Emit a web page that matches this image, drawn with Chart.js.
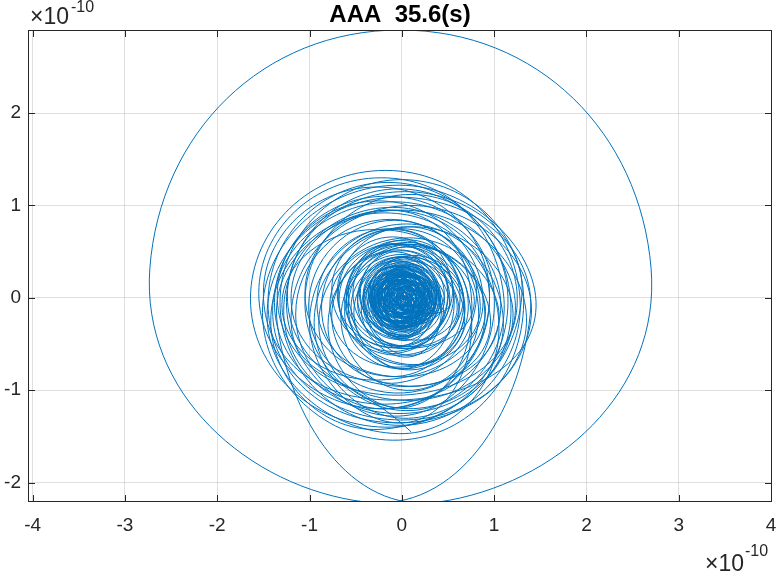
<!DOCTYPE html>
<html lang="en">
<head>
    <meta charset="UTF-8">
    <title>AAA  35.6(s)</title>
    <script src="https://cdn.jsdelivr.net/npm/chart.js"></script>
    <style>
        html, body { margin: 0; padding: 0; background: #fff; }
    </style>
</head>
<body>
<canvas id="myChart" width="777" height="573"></canvas>

<script>
    // extents of each loop of the orbit (units of 1e-10), in the order it is traced
    const loopLeft   = [-0.02, -0.08, -0.07, -0.03, -0.17, -0.03, -0.15, -0.02, -0.19, 0.00,
                        -0.25, -0.10, -0.16, -0.05, -0.25, -0.06, -0.27, -0.02, -0.32, -0.18,
                        -0.16, -0.12, -0.29, -0.08, -0.34,
                        -0.06, -0.19, -0.14, -0.20, -0.10, -0.27, -0.18, -0.26, -0.14, -0.34,
                        -0.26, -0.22, -0.33, -0.22, -0.36, -0.29, -0.33, -0.16, -0.25, -0.14,
                        -0.05, -0.10, -0.08, -0.12, -0.15, -0.04, -0.21, -0.12, -0.10, -0.18,
                        -0.20, -0.06, -0.22, -0.16, -0.13, -0.24, -0.24, -0.09, -0.33, -0.20,
                        -0.19, -0.26, -0.12, -0.30, -0.22, -0.30, -0.18, -0.26, -0.28, -0.36,
                        -0.16, -0.33, -0.32, -0.30, -0.22, -0.41, -0.26, -0.31, -0.35, -0.42,
                        -0.20, -0.30, -0.30, -0.42, -0.28, -0.42, -0.38, -0.34, -0.24, -0.48,
                        -0.36, -0.38, -0.32, -0.46, -0.25, -0.18, -0.27, -0.14,
                        -0.48, -0.55, -0.60, -0.45, -0.44, -0.62, -0.68, -0.40, -0.53, -0.58,
                        -0.62, -0.52, -0.76, -0.70, -0.58, -0.60, -0.76, -0.69, -0.92, -0.66,
                        -0.87, -0.80, -1.05,
                        -0.78, -1.01, -1.15, -1.20, -0.90, -1.00, -1.30, -1.38, -1.28, -0.95,
                        -1.25, -1.35, -1.40, -1.35, -1.46, -1.42, -1.24, -1.05, -1.55, -1.50,
                        -1.51, -1.32, -1.64, -1.45, -1.20];
    const loopRight  = [0.10, 0.02, 0.07, 0.13, 0.03, 0.15, 0.03, 0.18, 0.03, 0.24,
                        0.01, 0.16, 0.12, 0.25, 0.05, 0.26, 0.05, 0.32, 0.02, 0.18,
                        0.20, 0.28, 0.11, 0.34, 0.08,
                        0.18, 0.09, 0.18, 0.14, 0.28, 0.11, 0.26, 0.18, 0.34, 0.14,
                        0.26, 0.32, 0.23, 0.36, 0.24, 0.33, 0.33, 0.24, 0.21, 0.16,
                        0.07, 0.10, 0.04, 0.16, 0.05, 0.18, 0.15, 0.12, 0.14, 0.26,
                        0.08, 0.22, 0.18, 0.16, 0.19, 0.26, 0.12, 0.25, 0.23, 0.20,
                        0.29, 0.14, 0.28, 0.30, 0.22, 0.22, 0.26, 0.38, 0.20, 0.24,
                        0.32, 0.37, 0.18, 0.36, 0.30, 0.35, 0.28, 0.41, 0.21, 0.38,
                        0.36, 0.38, 0.30, 0.32, 0.34, 0.42, 0.26, 0.46, 0.40, 0.40,
                        0.32, 0.42, 0.38, 0.46, 0.31, 0.22, 0.19, 0.30,
                        0.52, 0.45, 0.50, 0.55, 0.60, 0.42, 0.52, 0.66, 0.63, 0.56,
                        0.62, 0.68, 0.56, 0.50, 0.78, 0.72, 0.68, 0.81, 0.68, 0.90,
                        0.83, 0.96, 0.75,
                        0.67, 0.85, 0.90, 0.95, 1.05, 1.10, 0.74, 0.88, 1.07, 1.20,
                        1.18, 1.00, 1.23, 1.35, 1.39, 1.05, 1.30, 1.25, 1.10, 0.95,
                        1.45, 1.32, 1.28, 1.15, 1.40];
    const loopTop    = [0.06, 0.08, 0.02, 0.13, 0.05, 0.19, 0.18, 0.02, 0.18, 0.14,
                        0.11, 0.00, 0.01, 0.25, 0.05, 0.04, 0.26, 0.14, 0.19, 0.33,
                        0.02, 0.26, 0.13, 0.08, 0.33,
                        0.10, 0.19, 0.24, 0.09, 0.23, 0.19, 0.12, 0.31, 0.18, 0.27,
                        0.26, 0.33, 0.22, 0.26, 0.34, 0.26, 0.36, 0.18, 0.24, 0.12,
                        0.06, 0.10, 0.03, 0.11, 0.12, 0.08, 0.20, 0.16, 0.06, 0.17,
                        0.10, 0.14, 0.24, 0.20, 0.09, 0.17, 0.16, 0.22, 0.28, 0.14,
                        0.27, 0.24, 0.18, 0.26, 0.28, 0.20, 0.12, 0.30, 0.22, 0.35,
                        0.25, 0.35, 0.18, 0.23, 0.32, 0.40, 0.16, 0.31, 0.30, 0.38,
                        0.24, 0.38, 0.33, 0.29, 0.20, 0.44, 0.34, 0.34, 0.36, 0.44,
                        0.26, 0.28, 0.42, 0.51, 0.25, 0.19, 0.15, 0.29,
                        0.45, 0.40, 0.58, 0.55, 0.40, 0.50, 0.58, 0.46, 0.63, 0.62,
                        0.47, 0.44, 0.74, 0.66, 0.58, 0.60, 0.52, 0.77, 0.75, 0.56,
                        0.75, 0.58, 0.95,
                        0.59, 0.84, 0.85, 0.95, 0.65, 0.80, 0.74, 1.05, 0.98, 0.77,
                        1.18, 1.10, 1.04, 0.95, 1.09, 0.92, 1.15, 1.12, 1.30, 1.20,
                        1.22, 1.28, 1.38, 1.25, 1.00];
    const loopBottom = [-0.06, -0.02, -0.12, 0.01, -0.04, -0.03, -0.03, -0.18, -0.20, -0.10,
                        -0.15, -0.20, -0.27, -0.05, -0.25, -0.28, -0.06, -0.20, -0.15, -0.03,
                        -0.34, -0.14, -0.27, -0.34, -0.09,
                        -0.14, -0.09, -0.08, -0.25, -0.15, -0.19, -0.32, -0.13, -0.30, -0.21,
                        -0.26, -0.21, -0.34, -0.32, -0.26, -0.36, -0.30, -0.22, -0.22, -0.18,
                        -0.07, -0.10, -0.09, -0.17, -0.08, -0.14, -0.16, -0.08, -0.18, -0.27,
                        -0.18, -0.14, -0.16, -0.12, -0.23, -0.33, -0.20, -0.12, -0.28, -0.26,
                        -0.21, -0.16, -0.22, -0.34, -0.16, -0.32, -0.32, -0.34, -0.26, -0.25,
                        -0.23, -0.35, -0.32, -0.43, -0.20, -0.36, -0.38, -0.41, -0.26, -0.42,
                        -0.32, -0.30, -0.27, -0.45, -0.42, -0.40, -0.30, -0.46, -0.28, -0.44,
                        -0.42, -0.52, -0.28, -0.41, -0.31, -0.21, -0.31, -0.15,
                        -0.55, -0.60, -0.52, -0.45, -0.64, -0.54, -0.62, -0.62, -0.53, -0.52,
                        -0.77, -0.76, -0.58, -0.54, -0.78, -0.72, -0.92, -0.73, -0.85, -1.00,
                        -0.95, -1.18, -0.85,
                        -0.75, -1.03, -1.20, -0.95, -1.20, -1.35, -0.89, -1.15, -1.25, -1.30,
                        -1.28, -1.05, -1.32, -1.50, -1.47, -1.42, -1.11, -1.22, -1.20, -1.10,
                        -1.54, -1.38, -1.40, -1.35, -1.45];

    // the one wide excursion, taken after the left side of loop number outerAfter
    const outerAfter = 139;
    const outerX = [0.40, 2.70, -0.02, -2.73, -0.40];
    const outerY = [-2.21, 0.32, 2.90, 0.32, -2.21];

    const xTicks = [-4, -3, -2, -1, 0, 1, 2, 3, 4];
    const yTicks = [-2, -1, 0, 1, 2];
    const titleText = 'AAA  35.6(s)';

    // each loop is traced right -> top -> left -> bottom, the spline rounds it off
    const points = [];
    for (let i = 0; i < loopLeft.length; i++) {
        const cx = (loopLeft[i] + loopRight[i]) / 2;
        const cy = (loopTop[i] + loopBottom[i]) / 2;
        points.push({x: loopRight[i], y: cy});
        points.push({x: cx, y: loopTop[i]});
        points.push({x: loopLeft[i], y: cy});
        if (i === outerAfter) {
            outerX.forEach((v, k) => points.push({x: v, y: outerY[k]}));
        } else {
            points.push({x: cx, y: loopBottom[i]});
        }
    }

    const frame = {
        id: 'frame',
        afterDraw(chart) {
            const ctx = chart.ctx;
            const a = chart.chartArea;
            const x = chart.scales.x, y = chart.scales.y;
            ctx.save();
            ctx.strokeStyle = '#262626';
            ctx.lineWidth = 1;
            ctx.strokeRect(a.left + 0.5, a.top + 0.5, a.right - a.left - 1, a.bottom - a.top - 1);
            ctx.beginPath();
            xTicks.forEach(v => {
                const px = Math.round(x.getPixelForValue(v)) + 0.5;
                ctx.moveTo(px, a.bottom); ctx.lineTo(px, a.bottom - 7);
                ctx.moveTo(px, a.top); ctx.lineTo(px, a.top + 7);
            });
            yTicks.forEach(v => {
                const py = Math.round(y.getPixelForValue(v)) + 0.5;
                ctx.moveTo(a.left, py); ctx.lineTo(a.left + 7, py);
                ctx.moveTo(a.right, py); ctx.lineTo(a.right - 7, py);
            });
            ctx.stroke();

            ctx.fillStyle = '#000';
            ctx.font = 'bold 24px "Liberation Sans"';
            ctx.textAlign = 'center';
            ctx.textBaseline = 'alphabetic';
            ctx.fillText(titleText, (a.left + a.right) / 2, 22);

            ctx.fillStyle = '#262626';
            ctx.textAlign = 'left';
            ctx.font = '23px "Liberation Sans"';
            ctx.fillText('\u00d710', 30, 24);
            ctx.fillText('\u00d710', 705, 571);
            ctx.font = '16px "Liberation Sans"';
            ctx.fillText('-10', 71, 12);
            ctx.fillText('-10', 745, 556);
            ctx.restore();
        }
    };

    const gridColor = 'rgba(38,38,38,0.15)';
    const tickFont = {family: 'Liberation Sans', size: 19};

    new Chart(document.getElementById('myChart').getContext('2d'), {
        type: 'scatter',
        data: {
            datasets: [{
                data: points,
                showLine: true,
                borderColor: '#0072BD',
                borderWidth: 1,
                pointRadius: 0,
                tension: 0.55,
                fill: false
            }]
        },
        options: {
            responsive: false,
            animation: false,
            layout: {padding: {top: 30, right: 5, left: 0, bottom: 0}},
            elements: {line: {capBezierPoints: false}},
            plugins: {
                legend: {display: false},
                tooltip: {enabled: false},
                title: {display: false}
            },
            scales: {
                x: {
                    type: 'linear',
                    min: -4.05,
                    max: 4.01,
                    afterBuildTicks: s => { s.ticks = xTicks.map(v => ({value: v})); },
                    afterFit: s => { s.height = 71; s.paddingLeft = 0; s.paddingRight = 0; },
                    grid: {color: gridColor, drawTicks: false},
                    border: {display: false},
                    ticks: {color: '#262626', font: tickFont, padding: 12, maxRotation: 0, autoSkip: false,
                            callback: v => String(v)}
                },
                y: {
                    type: 'linear',
                    min: -2.21,
                    max: 2.9,
                    afterBuildTicks: s => { s.ticks = yTicks.map(v => ({value: v})); },
                    afterFit: s => { s.width = 28; s.paddingTop = 0; s.paddingBottom = 0; },
                    grid: {color: gridColor, drawTicks: false},
                    border: {display: false},
                    ticks: {color: '#262626', font: tickFont, padding: 7, autoSkip: false,
                            callback: v => String(v)}
                }
            }
        },
        plugins: [frame]
    });
</script>
</body>
</html>
